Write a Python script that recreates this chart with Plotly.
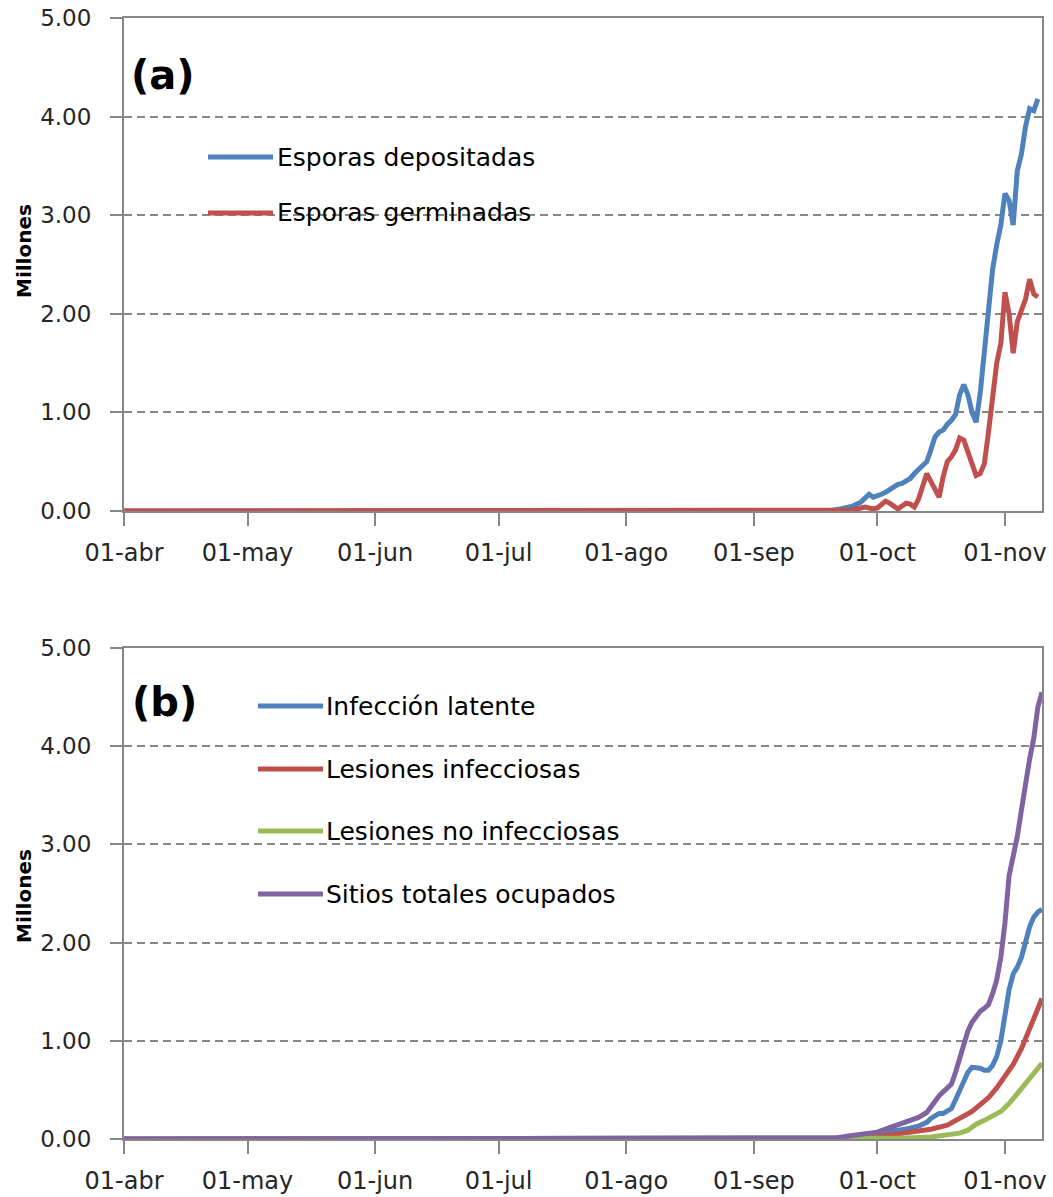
import plotly.graph_objects as go

# ---------------- data ----------------
tick_dates = ["2013-04-01", "2013-05-01", "2013-06-01", "2013-07-01",
              "2013-08-01", "2013-09-01", "2013-10-01", "2013-11-01"]
tick_labels = ["01-abr", "01-may", "01-jun", "01-jul", "01-ago", "01-sep", "01-oct", "01-nov"]

# Panel (a)
dep_dates = ["2013-04-01", "2013-09-19", "2013-09-22", "2013-09-25", "2013-09-27", "2013-09-29",
             "2013-09-30", "2013-10-01", "2013-10-02", "2013-10-03", "2013-10-04", "2013-10-05",
             "2013-10-06", "2013-10-07", "2013-10-08", "2013-10-09", "2013-10-10", "2013-10-11",
             "2013-10-12", "2013-10-13", "2013-10-14", "2013-10-15", "2013-10-16", "2013-10-17",
             "2013-10-18", "2013-10-19", "2013-10-20", "2013-10-21", "2013-10-22", "2013-10-23",
             "2013-10-24", "2013-10-25", "2013-10-26", "2013-10-27", "2013-10-28", "2013-10-29",
             "2013-10-30", "2013-10-31", "2013-11-01", "2013-11-02", "2013-11-03", "2013-11-04",
             "2013-11-05", "2013-11-06", "2013-11-07", "2013-11-08", "2013-11-09"]
dep_values = [0.0, 0.0, 0.02, 0.05, 0.09, 0.17,
              0.14, 0.15, 0.17, 0.19, 0.22, 0.25,
              0.27, 0.28, 0.30, 0.33, 0.38, 0.42,
              0.45, 0.50, 0.62, 0.75, 0.80, 0.82,
              0.88, 0.92, 0.98, 1.18, 1.28, 1.18,
              1.00, 0.90, 1.20, 1.65, 2.05, 2.45,
              2.70, 2.90, 3.22, 3.15, 2.90, 3.45,
              3.62, 3.90, 4.08, 4.06, 4.18]

ger_dates = ["2013-04-01", "2013-09-22", "2013-09-25", "2013-09-28", "2013-09-30", "2013-10-01",
             "2013-10-03", "2013-10-04", "2013-10-05", "2013-10-06", "2013-10-07", "2013-10-08",
             "2013-10-09", "2013-10-10", "2013-10-11", "2013-10-12", "2013-10-13", "2013-10-14",
             "2013-10-15", "2013-10-16", "2013-10-17", "2013-10-18", "2013-10-19", "2013-10-20",
             "2013-10-21", "2013-10-22", "2013-10-23", "2013-10-24", "2013-10-25", "2013-10-26",
             "2013-10-27", "2013-10-28", "2013-10-29", "2013-10-30", "2013-10-31", "2013-11-01",
             "2013-11-02", "2013-11-03", "2013-11-04", "2013-11-05", "2013-11-06", "2013-11-07",
             "2013-11-08", "2013-11-09"]
ger_values = [0.0, 0.0, 0.01, 0.04, 0.02, 0.03,
              0.10, 0.08, 0.05, 0.02, 0.05, 0.08,
              0.07, 0.04, 0.12, 0.25, 0.38, 0.30,
              0.22, 0.14, 0.35, 0.50, 0.55, 0.62,
              0.74, 0.72, 0.60, 0.48, 0.36, 0.38,
              0.48, 0.80, 1.15, 1.50, 1.70, 2.22,
              2.00, 1.60, 1.92, 2.05, 2.15, 2.35,
              2.20, 2.17]

# Panel (b)
lat_dates = ["2013-04-01", "2013-09-20", "2013-09-24", "2013-09-28", "2013-10-01", "2013-10-04",
             "2013-10-07", "2013-10-09", "2013-10-11", "2013-10-13", "2013-10-14", "2013-10-15",
             "2013-10-16", "2013-10-17", "2013-10-18", "2013-10-19", "2013-10-20", "2013-10-21",
             "2013-10-22", "2013-10-23", "2013-10-24", "2013-10-25", "2013-10-26", "2013-10-27",
             "2013-10-28", "2013-10-29", "2013-10-30", "2013-10-31", "2013-11-01", "2013-11-02",
             "2013-11-03", "2013-11-04", "2013-11-05", "2013-11-06", "2013-11-07", "2013-11-08",
             "2013-11-09", "2013-11-10"]
lat_values = [0.0, 0.0, 0.01, 0.03, 0.05, 0.07,
              0.09, 0.11, 0.13, 0.17, 0.21, 0.24,
              0.26, 0.26, 0.28, 0.31, 0.40, 0.50,
              0.59, 0.68, 0.73, 0.73, 0.72, 0.70,
              0.70, 0.75, 0.84, 1.00, 1.30, 1.52,
              1.68, 1.75, 1.85, 2.02, 2.16, 2.26,
              2.31, 2.34]

inf_dates = ["2013-04-01", "2013-09-23", "2013-09-28", "2013-10-02", "2013-10-06", "2013-10-10",
             "2013-10-14", "2013-10-18", "2013-10-21", "2013-10-24", "2013-10-26", "2013-10-28",
             "2013-10-30", "2013-11-01", "2013-11-03", "2013-11-05", "2013-11-07", "2013-11-09",
             "2013-11-10"]
inf_values = [0.0, 0.0, 0.01, 0.03, 0.05, 0.07,
              0.10, 0.14, 0.21, 0.28, 0.35, 0.42,
              0.52, 0.63, 0.76, 0.92, 1.13, 1.32,
              1.43]

noinf_dates = ["2013-04-01", "2013-09-28", "2013-10-08", "2013-10-14", "2013-10-18", "2013-10-21",
               "2013-10-23", "2013-10-25", "2013-10-27", "2013-10-29", "2013-10-31", "2013-11-02",
               "2013-11-04", "2013-11-06", "2013-11-08", "2013-11-10"]
noinf_values = [0.0, 0.0, 0.01, 0.02, 0.04, 0.06,
                0.09, 0.15, 0.19, 0.23, 0.28, 0.36,
                0.46, 0.57, 0.67, 0.77]

tot_dates = ["2013-04-01", "2013-09-16", "2013-09-21", "2013-09-24", "2013-09-26", "2013-09-28",
             "2013-10-01", "2013-10-03", "2013-10-05", "2013-10-07", "2013-10-09", "2013-10-11",
             "2013-10-13", "2013-10-14", "2013-10-15", "2013-10-16", "2013-10-17", "2013-10-18",
             "2013-10-19", "2013-10-20", "2013-10-21", "2013-10-22", "2013-10-23", "2013-10-24",
             "2013-10-25", "2013-10-26", "2013-10-27", "2013-10-28", "2013-10-29", "2013-10-30",
             "2013-10-31", "2013-11-01", "2013-11-02", "2013-11-03", "2013-11-04", "2013-11-05",
             "2013-11-06", "2013-11-07", "2013-11-08", "2013-11-09", "2013-11-10"]
tot_values = [0.0, 0.0, 0.01, 0.03, 0.04, 0.05,
              0.07, 0.10, 0.13, 0.15, 0.18, 0.22,
              0.27, 0.33, 0.40, 0.44, 0.48, 0.52,
              0.56, 0.68, 0.83, 0.97, 1.10, 1.19,
              1.25, 1.30, 1.33, 1.37, 1.48, 1.62,
              1.85, 2.20, 2.68, 2.88, 3.08, 3.35,
              3.65, 3.87, 4.08, 4.40, 4.55]

series_a = [("Esporas depositadas", dep_dates, dep_values, "#4F81BD"),
            ("Esporas germinadas", ger_dates, ger_values, "#C0504D")]
series_b = [("Infección latente", lat_dates, lat_values, "#4F81BD"),
            ("Lesiones infecciosas", inf_dates, inf_values, "#C0504D"),
            ("Lesiones no infecciosas", noinf_dates, noinf_values, "#9BBB59"),
            ("Sitios totales ocupados", tot_dates, tot_values, "#8064A2")]

# ---------------- layout helpers ----------------
W, H = 1053, 1197
PL, PR, PT, PB = 124, 1042, 18, 1139   # plot-area edges in page pixels
ML, MR, MT, MB = PL, W - PR, PT, H - PB
PW = W - ML - MR
PH = H - MT - MB


def px_x(x):
    return (x - PL) / PW


def px_y(y):
    return (PB - y) / PH


FONT = "DejaVu Sans"
GRAY = "#878787"
TXT = "#262626"

fig = go.Figure()
for name, d, v, c in series_a:
    fig.add_trace(go.Scatter(x=d, y=v, mode="lines", name=name,
                             line=dict(color=c, width=5), xaxis="x", yaxis="y",
                             showlegend=False))
for name, d, v, c in series_b:
    fig.add_trace(go.Scatter(x=d, y=v, mode="lines", name=name,
                             line=dict(color=c, width=5), xaxis="x2", yaxis="y2",
                             showlegend=False))

xcommon = dict(type="date", range=["2013-04-01", "2013-11-10"],
               tickvals=tick_dates, ticktext=tick_labels,
               ticks="outside", ticklen=13, tickwidth=1.5, tickcolor=GRAY,
               showline=True, linecolor=GRAY, linewidth=2, mirror=True,
               showgrid=False, zeroline=False,
               tickfont=dict(family=FONT, size=24, color=TXT),
               ticklabelstandoff=6, ticklabeloverflow="allow")
ycommon = dict(range=[0, 5], dtick=1, tick0=0, tickformat=".2f",
               ticks="outside", ticklen=12, tickwidth=1.5, tickcolor=GRAY,
               showline=True, linecolor=GRAY, linewidth=2, mirror=True,
               showgrid=True, gridcolor=GRAY, gridwidth=1.5, griddash="8px,5px",
               zeroline=False,
               tickfont=dict(family=FONT, size=23, color=TXT),
               ticklabelstandoff=14, ticklabeloverflow="allow")

fig.update_layout(
    width=W, height=H,
    margin=dict(l=ML, r=MR, t=MT, b=MB, autoexpand=False),
    paper_bgcolor="white", plot_bgcolor="white",
    xaxis=dict(**xcommon, anchor="y"),
    yaxis=dict(**ycommon, domain=[px_y(511), 1.0], anchor="x"),
    xaxis2=dict(**xcommon, anchor="y2"),
    yaxis2=dict(**ycommon, domain=[0.0, px_y(648)], anchor="x2"),
    showlegend=False,
)

annotations = []
shapes = []

# panel labels
annotations.append(dict(text="<b>(a)</b>", x=px_x(163), y=px_y(75), xref="paper", yref="paper",
                        showarrow=False, font=dict(family=FONT, size=40, color="black"),
                        xanchor="center", yanchor="middle"))
annotations.append(dict(text="<b>(b)</b>", x=px_x(164), y=px_y(702), xref="paper", yref="paper",
                        showarrow=False, font=dict(family=FONT, size=40, color="black"),
                        xanchor="center", yanchor="middle"))

# y axis titles
for yc in (251, 896):
    annotations.append(dict(text="<b>Millones</b>", x=px_x(24), y=px_y(yc), xref="paper", yref="paper",
                            showarrow=False, textangle=-90,
                            font=dict(family=FONT, size=20, color="black"),
                            xanchor="center", yanchor="middle"))

# manual legends
leg_a_y = [157, 213]
for (name, d, v, c), ly in zip(series_a, leg_a_y):
    shapes.append(dict(type="line", xref="paper", yref="paper",
                       x0=px_x(208), x1=px_x(273), y0=px_y(ly), y1=px_y(ly),
                       line=dict(color=c, width=5)))
    annotations.append(dict(text=name, x=px_x(275), y=px_y(ly), xref="paper", yref="paper",
                            showarrow=False, xanchor="left", yanchor="middle",
                            font=dict(family=FONT, size=25, color="black")))

leg_b_y = [706, 769, 831, 894]
for (name, d, v, c), ly in zip(series_b, leg_b_y):
    shapes.append(dict(type="line", xref="paper", yref="paper",
                       x0=px_x(258), x1=px_x(323), y0=px_y(ly), y1=px_y(ly),
                       line=dict(color=c, width=5)))
    annotations.append(dict(text=name, x=px_x(324), y=px_y(ly), xref="paper", yref="paper",
                            showarrow=False, xanchor="left", yanchor="middle",
                            font=dict(family=FONT, size=25, color="black")))

fig.update_layout(annotations=annotations, shapes=shapes)

fig.write_html("out.html", config={"displayModeBar": False},
               post_script="document.body.style.margin='0';")
